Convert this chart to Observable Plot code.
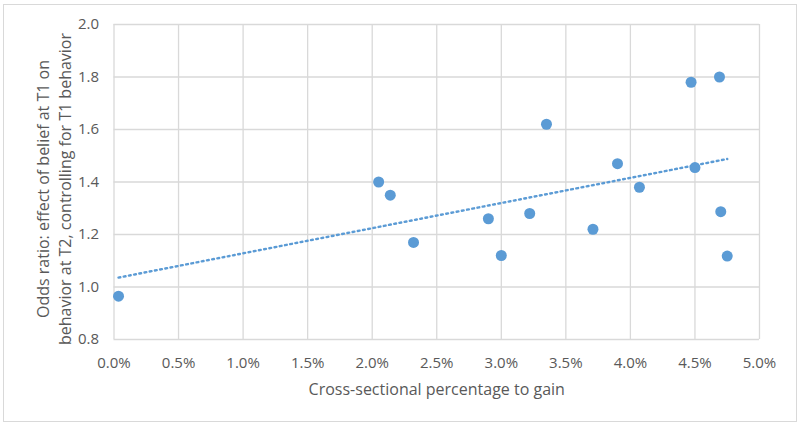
<!DOCTYPE html>
<html>
<head>
<meta charset="utf-8">
<script src="https://cdn.jsdelivr.net/npm/d3@7"></script>
<script src="https://cdn.jsdelivr.net/npm/@observablehq/plot@0.6"></script>
<style>
  html, body { margin: 0; padding: 0; background: #fff; }
  #wrap { position: relative; width: 800px; height: 425px; overflow: hidden; }
  #border { position: absolute; left: 3px; top: 4px; width: 792px; height: 416px; border: 1px solid #D9D9D9; pointer-events: none; }
  svg { font-family: "Open Sans", sans-serif; }
</style>
</head>
<body>
<div id="wrap"><div id="border"></div></div>
<script>
// Cross-sectional percentage to gain (in %)
const gainPct = [0.035, 2.05, 2.14, 2.32, 2.90, 3.00, 3.22, 3.35, 3.71, 3.90, 4.07, 4.47, 4.69, 4.50, 4.70, 4.75];
// Odds ratio
const oddsRatio = [0.965, 1.40, 1.35, 1.17, 1.26, 1.12, 1.28, 1.62, 1.22, 1.47, 1.38, 1.78, 1.80, 1.455, 1.287, 1.118];
const xTicks = [0, 0.5, 1, 1.5, 2, 2.5, 3, 3.5, 4, 4.5, 5];
const yTicks = [0.8, 1.0, 1.2, 1.4, 1.6, 1.8, 2.0];
const xTitle = "Cross-sectional percentage to gain";
const yTitle = "Odds ratio: effect of belief at T1 on\nbehavior at T2, controlling for T1 behavior";

const data = gainPct.map((x, i) => ({x, y: oddsRatio[i]}));

const textColor = "#595959";
const gridColor = "#D9D9D9";
const blue = "#5B9BD5";

const chart = Plot.plot({
  width: 800,
  height: 425,
  marginLeft: 113.5,
  marginRight: 41,
  marginTop: 24,
  marginBottom: 86,
  style: {fontFamily: "'Open Sans', sans-serif", fontSize: "15px", color: textColor, background: "transparent"},
  x: {domain: [0, 5], ticks: xTicks, tickFormat: d => d.toFixed(1) + "%", tickSize: 0, tickPadding: 18, label: null},
  y: {domain: [0.8, 2.0], ticks: yTicks, tickFormat: d => d.toFixed(1), tickSize: 0, tickPadding: 15, label: null},
  marks: [
    Plot.gridX(xTicks, {stroke: gridColor, strokeOpacity: 1, strokeWidth: 1.3}),
    Plot.gridY(yTicks, {stroke: gridColor, strokeOpacity: 1, strokeWidth: 1.3}),
    Plot.linearRegressionY(data, {x: "x", y: "y", ci: 0, stroke: blue, strokeWidth: 2.4, strokeDasharray: "1.8,3.5"}),
    Plot.dot(data, {x: "x", y: "y", r: 5.5, fill: blue, stroke: null}),
    Plot.text([xTitle], {frameAnchor: "bottom", dy: 55, text: d => d, fill: textColor, fontSize: 16}),
    Plot.text([yTitle], {frameAnchor: "left", textAnchor: "middle", dx: -61, dy: 7, rotate: -90, text: d => d, fill: textColor, fontSize: 16, lineHeight: 1.35})
  ]
});
document.getElementById("wrap").prepend(chart);
</script>
</body>
</html>
